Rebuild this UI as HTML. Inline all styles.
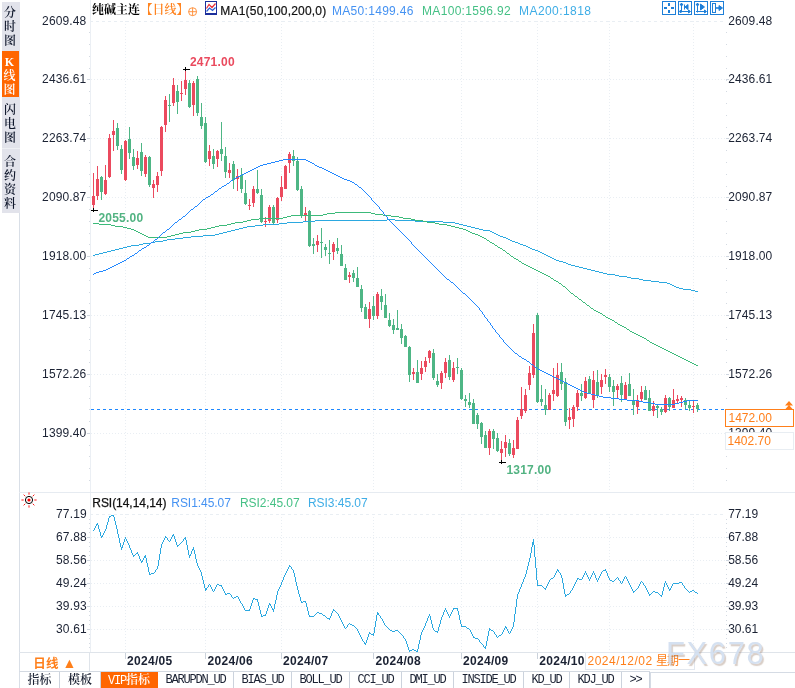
<!DOCTYPE html>
<html lang="zh-CN">
<head>
<meta charset="utf-8">
<title>纯碱主连 日线</title>
<style>
html,body{margin:0;padding:0;background:#fff;}
body{width:795px;height:688px;overflow:hidden;position:relative;font-family:"Liberation Sans", "Noto Sans CJK SC", sans-serif;font-size:12px;color:#1b2233;}
#chart{position:absolute;left:0;top:0;}
.side{position:absolute;left:2px;top:2px;width:18px;background:#e2e3eb;}
.side div{width:18px;box-sizing:border-box;text-align:center;padding-right:2px;font-family:"Liberation Serif", "Noto Serif CJK SC", serif;font-size:12px;font-weight:600;line-height:14px;color:#10182c;white-space:pre-line;}
.side .on{background:#ff6600;color:#fff;width:17px;}
.period{position:absolute;left:20px;top:653px;width:70px;height:18px;line-height:21.5px;letter-spacing:0.3px;padding-left:1px;text-align:center;color:#ff7f1a;font-weight:bold;font-family:"Liberation Sans", "Noto Sans CJK SC", sans-serif;font-size:12.5px;border-right:1px solid #dfe4ea;box-sizing:border-box;}
.period span{font-size:14px;}
.datebox{position:absolute;left:585px;top:652px;width:110px;height:18px;box-sizing:border-box;border:1px solid #e3e8ef;background:#fff;color:#ff7f1a;font-size:12px;line-height:16px;padding-left:1.5px;letter-spacing:0.2px;white-space:nowrap;font-family:"Liberation Sans", "Noto Sans CJK SC", sans-serif;}
.tabs{position:absolute;left:19px;top:671px;height:17px;display:flex;border-top:1px solid #d3d9e1;border-left:1px solid #d9dfe7;font-family:"Liberation Mono", "Noto Serif CJK SC", monospace;font-size:12px;line-height:16px;white-space:nowrap;}
.tabs div{box-sizing:border-box;border-right:1px solid #ccd3dd;text-align:center;letter-spacing:-1.2px;height:17px;overflow:hidden;}
.tabs .cj span{font-family:"Liberation Mono", "Noto Serif CJK SC", monospace;letter-spacing:-1.2px;font-weight:normal;}
.tabs .cj{font-family:"Liberation Serif", "Noto Serif CJK SC", serif;letter-spacing:0;font-weight:600;}
.tabs .on{background:#ff6600;color:#fff;border-right-color:#ff6600;}
.scroll{position:absolute;left:650px;top:672px;width:145px;height:16px;border-top:1px solid #d5dbe4;border-left:1px solid #d5dbe4;box-sizing:border-box;}
.wm{position:absolute;left:666px;top:635.5px;font-size:31px;line-height:36px;letter-spacing:1.6px;color:#d2dff0;text-shadow:1.5px 1.5px 1px rgba(150,120,100,.4);font-family:"Liberation Sans", "Noto Sans CJK SC", sans-serif;white-space:nowrap;opacity:.92;}
.pl{position:absolute;left:728.5px;color:#ff7f1a;font-size:12px;line-height:12px;letter-spacing:.33px;}
</style>
</head>
<body>
<div class="side">
<div style="height:49px;padding-top:4px">分
时
图</div>
<div class="on" style="height:46px;padding-top:3.5px">K
线
图</div>
<div style="height:52px;padding-top:6px;border-bottom:1px solid #eef0f4">闪
电
图</div>
<div style="height:64px;padding-top:6px">合
约
资
料</div>
</div>
<svg id="chart" width="795" height="688" viewBox="0 0 795 688">
<text x="728.3" y="25" fill="#1b2233" font-size="12" letter-spacing="0.1" font-family='"Liberation Sans", "Noto Sans CJK SC", sans-serif'>2609.48</text><text x="728.3" y="83" fill="#1b2233" font-size="12" letter-spacing="0.1" font-family='"Liberation Sans", "Noto Sans CJK SC", sans-serif'>2436.61</text><text x="728.3" y="142" fill="#1b2233" font-size="12" letter-spacing="0.1" font-family='"Liberation Sans", "Noto Sans CJK SC", sans-serif'>2263.74</text><text x="728.3" y="201" fill="#1b2233" font-size="12" letter-spacing="0.1" font-family='"Liberation Sans", "Noto Sans CJK SC", sans-serif'>2090.87</text><text x="728.3" y="260" fill="#1b2233" font-size="12" letter-spacing="0.1" font-family='"Liberation Sans", "Noto Sans CJK SC", sans-serif'>1918.00</text><text x="728.3" y="319" fill="#1b2233" font-size="12" letter-spacing="0.1" font-family='"Liberation Sans", "Noto Sans CJK SC", sans-serif'>1745.13</text><text x="728.3" y="378" fill="#1b2233" font-size="12" letter-spacing="0.1" font-family='"Liberation Sans", "Noto Sans CJK SC", sans-serif'>1572.26</text><text x="728.3" y="437" fill="#1b2233" font-size="12" letter-spacing="0.1" font-family='"Liberation Sans", "Noto Sans CJK SC", sans-serif'>1399.40</text>
<g shape-rendering="crispEdges" fill="none" stroke="#e9eef3" stroke-width="1">
<line x1="90" y1="21.5" x2="724" y2="21.5" stroke-dasharray="3 3"/>
<line x1="91" y1="79.5" x2="726" y2="79.5" stroke-dasharray="1 2"/>
<line x1="91" y1="138.5" x2="726" y2="138.5" stroke-dasharray="1 2"/>
<line x1="91" y1="197.5" x2="726" y2="197.5" stroke-dasharray="1 2"/>
<line x1="91" y1="256.5" x2="726" y2="256.5" stroke-dasharray="1 2"/>
<line x1="91" y1="315.5" x2="726" y2="315.5" stroke-dasharray="1 2"/>
<line x1="91" y1="374.5" x2="726" y2="374.5" stroke-dasharray="1 2"/>
<line x1="91" y1="433.5" x2="726" y2="433.5" stroke-dasharray="1 2"/>
<line x1="90" y1="514.5" x2="724" y2="514.5" stroke-dasharray="3 3"/>
<line x1="91" y1="537.5" x2="726" y2="537.5" stroke-dasharray="1 2"/>
<line x1="91" y1="560.5" x2="726" y2="560.5" stroke-dasharray="1 2"/>
<line x1="91" y1="583.5" x2="726" y2="583.5" stroke-dasharray="1 2"/>
<line x1="91" y1="606.5" x2="726" y2="606.5" stroke-dasharray="1 2"/>
<line x1="91" y1="629.5" x2="726" y2="629.5" stroke-dasharray="1 2"/>
<line x1="125.5" y1="21" x2="125.5" y2="492" stroke-dasharray="1 2"/>
<line x1="125.5" y1="514" x2="125.5" y2="652" stroke-dasharray="1 2"/>
<line x1="205.5" y1="21" x2="205.5" y2="492" stroke-dasharray="1 2"/>
<line x1="205.5" y1="514" x2="205.5" y2="652" stroke-dasharray="1 2"/>
<line x1="281.5" y1="21" x2="281.5" y2="492" stroke-dasharray="1 2"/>
<line x1="281.5" y1="514" x2="281.5" y2="652" stroke-dasharray="1 2"/>
<line x1="373.5" y1="21" x2="373.5" y2="492" stroke-dasharray="1 2"/>
<line x1="373.5" y1="514" x2="373.5" y2="652" stroke-dasharray="1 2"/>
<line x1="461.5" y1="21" x2="461.5" y2="492" stroke-dasharray="1 2"/>
<line x1="461.5" y1="514" x2="461.5" y2="652" stroke-dasharray="1 2"/>
<line x1="537.5" y1="21" x2="537.5" y2="492" stroke-dasharray="1 2"/>
<line x1="537.5" y1="514" x2="537.5" y2="652" stroke-dasharray="1 2"/>
<line x1="609.5" y1="21" x2="609.5" y2="492" stroke-dasharray="1 2"/>
<line x1="609.5" y1="514" x2="609.5" y2="652" stroke-dasharray="1 2"/>
<line x1="693.5" y1="21" x2="693.5" y2="492" stroke-dasharray="1 2"/>
<line x1="693.5" y1="514" x2="693.5" y2="652" stroke-dasharray="1 2"/>
</g>
<g shape-rendering="crispEdges" fill="#e3e8ee">
<rect x="19" y="213" width="1" height="473" fill="#d9dfe7"/>
<rect x="90" y="0" width="1" height="653" fill="#ebeff4"/>
<rect x="19" y="492" width="776" height="1" fill="#e6ebf1"/>
<rect x="19" y="652" width="776" height="1" fill="#dfe4ea"/>
<rect x="19" y="671" width="72" height="1"/>
<rect x="125" y="653" width="1" height="6" fill="#cbd2db"/>
<rect x="205" y="653" width="1" height="6" fill="#cbd2db"/>
<rect x="281" y="653" width="1" height="6" fill="#cbd2db"/>
<rect x="373" y="653" width="1" height="6" fill="#cbd2db"/>
<rect x="461" y="653" width="1" height="6" fill="#cbd2db"/>
<rect x="537" y="653" width="1" height="6" fill="#cbd2db"/>
<rect x="609" y="653" width="1" height="6" fill="#cbd2db"/>
</g>
<g shape-rendering="crispEdges" fill="#d4dae2">
<rect x="726" y="21" width="1" height="1"/>
<rect x="89" y="32" width="1" height="1"/>
<rect x="726" y="32" width="1" height="1"/>
<rect x="89" y="44" width="1" height="1"/>
<rect x="726" y="44" width="1" height="1"/>
<rect x="89" y="56" width="1" height="1"/>
<rect x="726" y="56" width="1" height="1"/>
<rect x="89" y="68" width="1" height="1"/>
<rect x="726" y="68" width="1" height="1"/>
<rect x="726" y="80" width="1" height="1"/>
<rect x="89" y="91" width="1" height="1"/>
<rect x="726" y="91" width="1" height="1"/>
<rect x="89" y="103" width="1" height="1"/>
<rect x="726" y="103" width="1" height="1"/>
<rect x="89" y="115" width="1" height="1"/>
<rect x="726" y="115" width="1" height="1"/>
<rect x="89" y="127" width="1" height="1"/>
<rect x="726" y="127" width="1" height="1"/>
<rect x="726" y="138" width="1" height="1"/>
<rect x="89" y="150" width="1" height="1"/>
<rect x="726" y="150" width="1" height="1"/>
<rect x="89" y="162" width="1" height="1"/>
<rect x="726" y="162" width="1" height="1"/>
<rect x="89" y="174" width="1" height="1"/>
<rect x="726" y="174" width="1" height="1"/>
<rect x="89" y="186" width="1" height="1"/>
<rect x="726" y="186" width="1" height="1"/>
<rect x="726" y="197" width="1" height="1"/>
<rect x="89" y="209" width="1" height="1"/>
<rect x="726" y="209" width="1" height="1"/>
<rect x="89" y="221" width="1" height="1"/>
<rect x="726" y="221" width="1" height="1"/>
<rect x="89" y="233" width="1" height="1"/>
<rect x="726" y="233" width="1" height="1"/>
<rect x="89" y="244" width="1" height="1"/>
<rect x="726" y="244" width="1" height="1"/>
<rect x="726" y="256" width="1" height="1"/>
<rect x="89" y="268" width="1" height="1"/>
<rect x="726" y="268" width="1" height="1"/>
<rect x="89" y="280" width="1" height="1"/>
<rect x="726" y="280" width="1" height="1"/>
<rect x="89" y="292" width="1" height="1"/>
<rect x="726" y="292" width="1" height="1"/>
<rect x="89" y="303" width="1" height="1"/>
<rect x="726" y="303" width="1" height="1"/>
<rect x="726" y="315" width="1" height="1"/>
<rect x="89" y="327" width="1" height="1"/>
<rect x="726" y="327" width="1" height="1"/>
<rect x="89" y="339" width="1" height="1"/>
<rect x="726" y="339" width="1" height="1"/>
<rect x="89" y="350" width="1" height="1"/>
<rect x="726" y="350" width="1" height="1"/>
<rect x="89" y="362" width="1" height="1"/>
<rect x="726" y="362" width="1" height="1"/>
<rect x="726" y="374" width="1" height="1"/>
<rect x="89" y="386" width="1" height="1"/>
<rect x="726" y="386" width="1" height="1"/>
<rect x="89" y="398" width="1" height="1"/>
<rect x="726" y="398" width="1" height="1"/>
<rect x="89" y="409" width="1" height="1"/>
<rect x="726" y="409" width="1" height="1"/>
<rect x="89" y="421" width="1" height="1"/>
<rect x="726" y="421" width="1" height="1"/>
<rect x="726" y="433" width="1" height="1"/>
<rect x="89" y="445" width="1" height="1"/>
<rect x="726" y="445" width="1" height="1"/>
<rect x="89" y="456" width="1" height="1"/>
<rect x="726" y="456" width="1" height="1"/>
<rect x="89" y="468" width="1" height="1"/>
<rect x="726" y="468" width="1" height="1"/>
<rect x="89" y="480" width="1" height="1"/>
<rect x="726" y="480" width="1" height="1"/>
<rect x="726" y="514" width="1" height="1"/>
<rect x="89" y="519" width="1" height="1"/>
<rect x="726" y="519" width="1" height="1"/>
<rect x="89" y="523" width="1" height="1"/>
<rect x="726" y="523" width="1" height="1"/>
<rect x="89" y="528" width="1" height="1"/>
<rect x="726" y="528" width="1" height="1"/>
<rect x="89" y="532" width="1" height="1"/>
<rect x="726" y="532" width="1" height="1"/>
<rect x="726" y="537" width="1" height="1"/>
<rect x="89" y="542" width="1" height="1"/>
<rect x="726" y="542" width="1" height="1"/>
<rect x="89" y="546" width="1" height="1"/>
<rect x="726" y="546" width="1" height="1"/>
<rect x="89" y="551" width="1" height="1"/>
<rect x="726" y="551" width="1" height="1"/>
<rect x="89" y="555" width="1" height="1"/>
<rect x="726" y="555" width="1" height="1"/>
<rect x="726" y="560" width="1" height="1"/>
<rect x="89" y="565" width="1" height="1"/>
<rect x="726" y="565" width="1" height="1"/>
<rect x="89" y="569" width="1" height="1"/>
<rect x="726" y="569" width="1" height="1"/>
<rect x="89" y="574" width="1" height="1"/>
<rect x="726" y="574" width="1" height="1"/>
<rect x="89" y="578" width="1" height="1"/>
<rect x="726" y="578" width="1" height="1"/>
<rect x="726" y="583" width="1" height="1"/>
<rect x="89" y="588" width="1" height="1"/>
<rect x="726" y="588" width="1" height="1"/>
<rect x="89" y="592" width="1" height="1"/>
<rect x="726" y="592" width="1" height="1"/>
<rect x="89" y="597" width="1" height="1"/>
<rect x="726" y="597" width="1" height="1"/>
<rect x="89" y="601" width="1" height="1"/>
<rect x="726" y="601" width="1" height="1"/>
<rect x="726" y="606" width="1" height="1"/>
<rect x="89" y="611" width="1" height="1"/>
<rect x="726" y="611" width="1" height="1"/>
<rect x="89" y="615" width="1" height="1"/>
<rect x="726" y="615" width="1" height="1"/>
<rect x="89" y="620" width="1" height="1"/>
<rect x="726" y="620" width="1" height="1"/>
<rect x="89" y="624" width="1" height="1"/>
<rect x="726" y="624" width="1" height="1"/>
<rect x="726" y="629" width="1" height="1"/>
<rect x="89" y="634" width="1" height="1"/>
<rect x="726" y="634" width="1" height="1"/>
<rect x="89" y="638" width="1" height="1"/>
<rect x="726" y="638" width="1" height="1"/>
<rect x="89" y="643" width="1" height="1"/>
<rect x="726" y="643" width="1" height="1"/>
<rect x="89" y="647" width="1" height="1"/>
<rect x="726" y="647" width="1" height="1"/>
</g>
<g shape-rendering="crispEdges" fill="#cfd6df">
<rect x="87" y="79" width="3" height="1"/>
<rect x="726" y="79" width="3" height="1"/>
<rect x="87" y="138" width="3" height="1"/>
<rect x="726" y="138" width="3" height="1"/>
<rect x="87" y="197" width="3" height="1"/>
<rect x="726" y="197" width="3" height="1"/>
<rect x="87" y="256" width="3" height="1"/>
<rect x="726" y="256" width="3" height="1"/>
<rect x="87" y="315" width="3" height="1"/>
<rect x="726" y="315" width="3" height="1"/>
<rect x="87" y="374" width="3" height="1"/>
<rect x="726" y="374" width="3" height="1"/>
<rect x="87" y="433" width="3" height="1"/>
<rect x="726" y="433" width="3" height="1"/>
<rect x="87" y="537" width="3" height="1"/>
<rect x="726" y="537" width="3" height="1"/>
<rect x="87" y="560" width="3" height="1"/>
<rect x="726" y="560" width="3" height="1"/>
<rect x="87" y="583" width="3" height="1"/>
<rect x="726" y="583" width="3" height="1"/>
<rect x="87" y="606" width="3" height="1"/>
<rect x="726" y="606" width="3" height="1"/>
<rect x="87" y="629" width="3" height="1"/>
<rect x="726" y="629" width="3" height="1"/>
<rect x="726" y="514" width="1" height="1" fill="#fff"/><rect x="726" y="21" width="1" height="1" fill="#fff"/>
</g>
<line x1="91" y1="409.5" x2="724" y2="409.5" stroke="#1e88ff" stroke-width="1" stroke-dasharray="3 3" shape-rendering="crispEdges"/>
<g shape-rendering="crispEdges">
<rect x="93" y="173" width="1" height="37" fill="#eb4a5e"/>
<rect x="92" y="196" width="3" height="9" fill="#eb4a5e"/>
<rect x="97" y="166" width="1" height="34" fill="#eb4a5e"/>
<rect x="96" y="179" width="3" height="17" fill="#eb4a5e"/>
<rect x="101" y="176" width="1" height="24" fill="#4eb685"/>
<rect x="100" y="177" width="3" height="15" fill="#4eb685"/>
<rect x="105" y="165" width="1" height="30" fill="#eb4a5e"/>
<rect x="104" y="180" width="3" height="14" fill="#eb4a5e"/>
<rect x="109" y="134" width="1" height="44" fill="#eb4a5e"/>
<rect x="108" y="138" width="3" height="39" fill="#eb4a5e"/>
<rect x="113" y="120" width="1" height="31" fill="#eb4a5e"/>
<rect x="112" y="131" width="3" height="4" fill="#eb4a5e"/>
<rect x="117" y="123" width="1" height="27" fill="#4eb685"/>
<rect x="116" y="128" width="3" height="18" fill="#4eb685"/>
<rect x="121" y="145" width="1" height="29" fill="#4eb685"/>
<rect x="120" y="149" width="3" height="21" fill="#4eb685"/>
<rect x="125" y="140" width="1" height="41" fill="#eb4a5e"/>
<rect x="124" y="141" width="3" height="39" fill="#eb4a5e"/>
<rect x="129" y="127" width="1" height="32" fill="#4eb685"/>
<rect x="128" y="139" width="3" height="14" fill="#4eb685"/>
<rect x="133" y="149" width="1" height="21" fill="#4eb685"/>
<rect x="132" y="157" width="3" height="9" fill="#4eb685"/>
<rect x="137" y="151" width="1" height="18" fill="#eb4a5e"/>
<rect x="136" y="158" width="3" height="7" fill="#eb4a5e"/>
<rect x="141" y="143" width="1" height="33" fill="#4eb685"/>
<rect x="140" y="152" width="3" height="19" fill="#4eb685"/>
<rect x="145" y="155" width="1" height="22" fill="#eb4a5e"/>
<rect x="144" y="157" width="3" height="17" fill="#eb4a5e"/>
<rect x="149" y="156" width="1" height="31" fill="#4eb685"/>
<rect x="148" y="157" width="3" height="28" fill="#4eb685"/>
<rect x="153" y="180" width="1" height="18" fill="#eb4a5e"/>
<rect x="152" y="184" width="3" height="4" fill="#eb4a5e"/>
<rect x="157" y="172" width="1" height="20" fill="#eb4a5e"/>
<rect x="156" y="176" width="3" height="9" fill="#eb4a5e"/>
<rect x="161" y="126" width="1" height="50" fill="#eb4a5e"/>
<rect x="160" y="127" width="3" height="44" fill="#eb4a5e"/>
<rect x="165" y="96" width="1" height="36" fill="#eb4a5e"/>
<rect x="164" y="100" width="3" height="25" fill="#eb4a5e"/>
<rect x="169" y="94" width="1" height="28" fill="#4eb685"/>
<rect x="168" y="105" width="3" height="1" fill="#4eb685"/>
<rect x="173" y="78" width="1" height="28" fill="#eb4a5e"/>
<rect x="172" y="85" width="3" height="18" fill="#eb4a5e"/>
<rect x="177" y="85" width="1" height="29" fill="#4eb685"/>
<rect x="176" y="91" width="3" height="11" fill="#4eb685"/>
<rect x="181" y="81" width="1" height="20" fill="#eb4a5e"/>
<rect x="180" y="93" width="3" height="1" fill="#eb4a5e"/>
<rect x="185" y="69" width="1" height="26" fill="#eb4a5e"/>
<rect x="184" y="80" width="3" height="9" fill="#eb4a5e"/>
<rect x="189" y="80" width="1" height="28" fill="#4eb685"/>
<rect x="188" y="83" width="3" height="24" fill="#4eb685"/>
<rect x="193" y="81" width="1" height="35" fill="#eb4a5e"/>
<rect x="192" y="83" width="3" height="22" fill="#eb4a5e"/>
<rect x="197" y="76" width="1" height="40" fill="#4eb685"/>
<rect x="196" y="79" width="3" height="34" fill="#4eb685"/>
<rect x="201" y="103" width="1" height="26" fill="#4eb685"/>
<rect x="200" y="117" width="3" height="9" fill="#4eb685"/>
<rect x="205" y="117" width="1" height="46" fill="#4eb685"/>
<rect x="204" y="123" width="3" height="39" fill="#4eb685"/>
<rect x="209" y="145" width="1" height="21" fill="#eb4a5e"/>
<rect x="208" y="151" width="3" height="8" fill="#eb4a5e"/>
<rect x="213" y="149" width="1" height="20" fill="#4eb685"/>
<rect x="212" y="156" width="3" height="8" fill="#4eb685"/>
<rect x="217" y="150" width="1" height="17" fill="#eb4a5e"/>
<rect x="216" y="151" width="3" height="8" fill="#eb4a5e"/>
<rect x="221" y="122" width="1" height="39" fill="#4eb685"/>
<rect x="220" y="149" width="3" height="5" fill="#4eb685"/>
<rect x="225" y="147" width="1" height="31" fill="#4eb685"/>
<rect x="224" y="156" width="3" height="16" fill="#4eb685"/>
<rect x="229" y="163" width="1" height="15" fill="#eb4a5e"/>
<rect x="228" y="170" width="3" height="3" fill="#eb4a5e"/>
<rect x="233" y="161" width="1" height="28" fill="#4eb685"/>
<rect x="232" y="164" width="3" height="16" fill="#4eb685"/>
<rect x="237" y="169" width="1" height="22" fill="#eb4a5e"/>
<rect x="236" y="176" width="3" height="3" fill="#eb4a5e"/>
<rect x="241" y="168" width="1" height="25" fill="#4eb685"/>
<rect x="240" y="175" width="3" height="14" fill="#4eb685"/>
<rect x="245" y="180" width="1" height="25" fill="#4eb685"/>
<rect x="244" y="193" width="3" height="11" fill="#4eb685"/>
<rect x="249" y="199" width="1" height="11" fill="#eb4a5e"/>
<rect x="248" y="205" width="3" height="1" fill="#eb4a5e"/>
<rect x="253" y="186" width="1" height="21" fill="#eb4a5e"/>
<rect x="252" y="189" width="3" height="14" fill="#eb4a5e"/>
<rect x="257" y="170" width="1" height="24" fill="#4eb685"/>
<rect x="256" y="189" width="3" height="4" fill="#4eb685"/>
<rect x="261" y="189" width="1" height="34" fill="#4eb685"/>
<rect x="260" y="195" width="3" height="27" fill="#4eb685"/>
<rect x="265" y="217" width="1" height="10" fill="#eb4a5e"/>
<rect x="264" y="220.5" width="3" height="1" fill="#eb4a5e"/>
<rect x="269" y="205" width="1" height="18" fill="#eb4a5e"/>
<rect x="268" y="207" width="3" height="14" fill="#eb4a5e"/>
<rect x="273" y="205" width="1" height="19" fill="#4eb685"/>
<rect x="272" y="207" width="3" height="16" fill="#4eb685"/>
<rect x="277" y="197" width="1" height="26" fill="#eb4a5e"/>
<rect x="276" y="198" width="3" height="22" fill="#eb4a5e"/>
<rect x="281" y="176" width="1" height="25" fill="#eb4a5e"/>
<rect x="280" y="187" width="3" height="10" fill="#eb4a5e"/>
<rect x="285" y="165" width="1" height="24" fill="#eb4a5e"/>
<rect x="284" y="166" width="3" height="23" fill="#eb4a5e"/>
<rect x="289" y="152" width="1" height="21" fill="#eb4a5e"/>
<rect x="288" y="154" width="3" height="9" fill="#eb4a5e"/>
<rect x="293" y="150" width="1" height="16" fill="#4eb685"/>
<rect x="292" y="156" width="3" height="5" fill="#4eb685"/>
<rect x="297" y="157" width="1" height="34" fill="#4eb685"/>
<rect x="296" y="161" width="3" height="29" fill="#4eb685"/>
<rect x="301" y="186" width="1" height="32" fill="#4eb685"/>
<rect x="300" y="189" width="3" height="27" fill="#4eb685"/>
<rect x="305" y="207" width="1" height="15" fill="#eb4a5e"/>
<rect x="304" y="213" width="3" height="2" fill="#eb4a5e"/>
<rect x="309" y="210" width="1" height="37" fill="#4eb685"/>
<rect x="308" y="211" width="3" height="35" fill="#4eb685"/>
<rect x="313" y="238" width="1" height="16" fill="#4eb685"/>
<rect x="312" y="244" width="3" height="2" fill="#4eb685"/>
<rect x="317" y="235" width="1" height="17" fill="#eb4a5e"/>
<rect x="316" y="241" width="3" height="4" fill="#eb4a5e"/>
<rect x="321" y="228" width="1" height="30" fill="#4eb685"/>
<rect x="320" y="242" width="3" height="1" fill="#4eb685"/>
<rect x="325" y="244" width="1" height="12" fill="#4eb685"/>
<rect x="324" y="247" width="3" height="3" fill="#4eb685"/>
<rect x="329" y="240" width="1" height="24" fill="#4eb685"/>
<rect x="328" y="252.5" width="3" height="1" fill="#4eb685"/>
<rect x="333" y="242" width="1" height="18" fill="#eb4a5e"/>
<rect x="332" y="244" width="3" height="8" fill="#eb4a5e"/>
<rect x="337" y="238" width="1" height="16" fill="#4eb685"/>
<rect x="336" y="248" width="3" height="3" fill="#4eb685"/>
<rect x="341" y="245" width="1" height="21" fill="#4eb685"/>
<rect x="340" y="254" width="3" height="12" fill="#4eb685"/>
<rect x="345" y="264" width="1" height="16" fill="#4eb685"/>
<rect x="344" y="268" width="3" height="12" fill="#4eb685"/>
<rect x="349" y="272" width="1" height="11" fill="#eb4a5e"/>
<rect x="348" y="275" width="3" height="2" fill="#eb4a5e"/>
<rect x="353" y="270" width="1" height="12" fill="#4eb685"/>
<rect x="352" y="273" width="3" height="5" fill="#4eb685"/>
<rect x="357" y="267" width="1" height="20" fill="#4eb685"/>
<rect x="356" y="278" width="3" height="9" fill="#4eb685"/>
<rect x="361" y="285" width="1" height="27" fill="#4eb685"/>
<rect x="360" y="289" width="3" height="19" fill="#4eb685"/>
<rect x="365" y="304" width="1" height="15" fill="#4eb685"/>
<rect x="364" y="307" width="3" height="12" fill="#4eb685"/>
<rect x="369" y="302" width="1" height="26" fill="#eb4a5e"/>
<rect x="368" y="309" width="3" height="10" fill="#eb4a5e"/>
<rect x="373" y="296" width="1" height="24" fill="#4eb685"/>
<rect x="372" y="306" width="3" height="10" fill="#4eb685"/>
<rect x="377" y="292" width="1" height="27" fill="#eb4a5e"/>
<rect x="376" y="294" width="3" height="22" fill="#eb4a5e"/>
<rect x="381" y="289" width="1" height="21" fill="#4eb685"/>
<rect x="380" y="296" width="3" height="6" fill="#4eb685"/>
<rect x="385" y="294" width="1" height="24" fill="#4eb685"/>
<rect x="384" y="305" width="3" height="13" fill="#4eb685"/>
<rect x="389" y="313" width="1" height="14" fill="#4eb685"/>
<rect x="388" y="320" width="3" height="6" fill="#4eb685"/>
<rect x="393" y="319" width="1" height="15" fill="#4eb685"/>
<rect x="392" y="325" width="3" height="5" fill="#4eb685"/>
<rect x="397" y="310" width="1" height="20" fill="#4eb685"/>
<rect x="396" y="328" width="3" height="2" fill="#4eb685"/>
<rect x="401" y="324" width="1" height="20" fill="#4eb685"/>
<rect x="400" y="329" width="3" height="9" fill="#4eb685"/>
<rect x="405" y="335" width="1" height="12" fill="#4eb685"/>
<rect x="404" y="336" width="3" height="11" fill="#4eb685"/>
<rect x="409" y="346" width="1" height="36" fill="#4eb685"/>
<rect x="408" y="347" width="3" height="28" fill="#4eb685"/>
<rect x="413" y="368" width="1" height="12" fill="#eb4a5e"/>
<rect x="412" y="372" width="3" height="2" fill="#eb4a5e"/>
<rect x="417" y="360" width="1" height="23" fill="#4eb685"/>
<rect x="416" y="372" width="3" height="11" fill="#4eb685"/>
<rect x="421" y="361" width="1" height="19" fill="#eb4a5e"/>
<rect x="420" y="368" width="3" height="6" fill="#eb4a5e"/>
<rect x="425" y="357" width="1" height="15" fill="#eb4a5e"/>
<rect x="424" y="361" width="3" height="6" fill="#eb4a5e"/>
<rect x="429" y="350" width="1" height="13" fill="#eb4a5e"/>
<rect x="428" y="351" width="3" height="7" fill="#eb4a5e"/>
<rect x="433" y="349" width="1" height="31" fill="#4eb685"/>
<rect x="432" y="353" width="3" height="25" fill="#4eb685"/>
<rect x="437" y="374" width="1" height="13" fill="#4eb685"/>
<rect x="436" y="381" width="3" height="4" fill="#4eb685"/>
<rect x="441" y="371" width="1" height="18" fill="#eb4a5e"/>
<rect x="440" y="373" width="3" height="10" fill="#eb4a5e"/>
<rect x="445" y="358" width="1" height="20" fill="#eb4a5e"/>
<rect x="444" y="362" width="3" height="11" fill="#eb4a5e"/>
<rect x="449" y="355" width="1" height="25" fill="#4eb685"/>
<rect x="448" y="360" width="3" height="17" fill="#4eb685"/>
<rect x="453" y="362" width="1" height="20" fill="#eb4a5e"/>
<rect x="452" y="368" width="3" height="12" fill="#eb4a5e"/>
<rect x="457" y="358" width="1" height="16" fill="#4eb685"/>
<rect x="456" y="367" width="3" height="1" fill="#4eb685"/>
<rect x="461" y="368" width="1" height="32" fill="#4eb685"/>
<rect x="460" y="370" width="3" height="29" fill="#4eb685"/>
<rect x="465" y="395" width="1" height="12" fill="#4eb685"/>
<rect x="464" y="399" width="3" height="2" fill="#4eb685"/>
<rect x="469" y="393" width="1" height="15" fill="#4eb685"/>
<rect x="468" y="402" width="3" height="3" fill="#4eb685"/>
<rect x="473" y="399" width="1" height="25" fill="#4eb685"/>
<rect x="472" y="403" width="3" height="21" fill="#4eb685"/>
<rect x="477" y="413" width="1" height="16" fill="#4eb685"/>
<rect x="476" y="415" width="3" height="9" fill="#4eb685"/>
<rect x="481" y="422" width="1" height="22" fill="#4eb685"/>
<rect x="480" y="423" width="3" height="14" fill="#4eb685"/>
<rect x="485" y="431" width="1" height="17" fill="#4eb685"/>
<rect x="484" y="435" width="3" height="13" fill="#4eb685"/>
<rect x="489" y="429" width="1" height="26" fill="#eb4a5e"/>
<rect x="488" y="431" width="3" height="17" fill="#eb4a5e"/>
<rect x="493" y="429" width="1" height="20" fill="#4eb685"/>
<rect x="492" y="431" width="3" height="8" fill="#4eb685"/>
<rect x="497" y="433" width="1" height="19" fill="#4eb685"/>
<rect x="496" y="438" width="3" height="13" fill="#4eb685"/>
<rect x="501" y="441" width="1" height="21" fill="#eb4a5e"/>
<rect x="500" y="449" width="3" height="4" fill="#eb4a5e"/>
<rect x="505" y="435" width="1" height="22" fill="#eb4a5e"/>
<rect x="504" y="442" width="3" height="6" fill="#eb4a5e"/>
<rect x="509" y="439" width="1" height="17" fill="#4eb685"/>
<rect x="508" y="443" width="3" height="11" fill="#4eb685"/>
<rect x="513" y="440" width="1" height="18" fill="#eb4a5e"/>
<rect x="512" y="448" width="3" height="7" fill="#eb4a5e"/>
<rect x="517" y="417" width="1" height="32" fill="#eb4a5e"/>
<rect x="516" y="420" width="3" height="29" fill="#eb4a5e"/>
<rect x="521" y="387" width="1" height="32" fill="#eb4a5e"/>
<rect x="520" y="409" width="3" height="7" fill="#eb4a5e"/>
<rect x="525" y="389" width="1" height="24" fill="#eb4a5e"/>
<rect x="524" y="395" width="3" height="16" fill="#eb4a5e"/>
<rect x="529" y="366" width="1" height="24" fill="#eb4a5e"/>
<rect x="528" y="373" width="3" height="12" fill="#eb4a5e"/>
<rect x="533" y="324" width="1" height="54" fill="#eb4a5e"/>
<rect x="532" y="333" width="3" height="42" fill="#eb4a5e"/>
<rect x="537" y="313" width="1" height="90" fill="#4eb685"/>
<rect x="536" y="315" width="3" height="87" fill="#4eb685"/>
<rect x="541" y="385" width="1" height="21" fill="#4eb685"/>
<rect x="540" y="399" width="3" height="3" fill="#4eb685"/>
<rect x="545" y="389" width="1" height="26" fill="#4eb685"/>
<rect x="544" y="405" width="3" height="5" fill="#4eb685"/>
<rect x="549" y="393" width="1" height="17" fill="#eb4a5e"/>
<rect x="548" y="395" width="3" height="15" fill="#eb4a5e"/>
<rect x="553" y="368" width="1" height="33" fill="#eb4a5e"/>
<rect x="552" y="390" width="3" height="4" fill="#eb4a5e"/>
<rect x="557" y="363" width="1" height="34" fill="#eb4a5e"/>
<rect x="556" y="375" width="3" height="21" fill="#eb4a5e"/>
<rect x="561" y="363" width="1" height="27" fill="#4eb685"/>
<rect x="560" y="372" width="3" height="12" fill="#4eb685"/>
<rect x="565" y="378" width="1" height="48" fill="#4eb685"/>
<rect x="564" y="382" width="3" height="40" fill="#4eb685"/>
<rect x="569" y="408" width="1" height="21" fill="#eb4a5e"/>
<rect x="568" y="417" width="3" height="3" fill="#eb4a5e"/>
<rect x="573" y="405" width="1" height="22" fill="#eb4a5e"/>
<rect x="572" y="407" width="3" height="12" fill="#eb4a5e"/>
<rect x="577" y="390" width="1" height="21" fill="#eb4a5e"/>
<rect x="576" y="393" width="3" height="14" fill="#eb4a5e"/>
<rect x="581" y="384" width="1" height="17" fill="#4eb685"/>
<rect x="580" y="393" width="3" height="3" fill="#4eb685"/>
<rect x="585" y="377" width="1" height="22" fill="#eb4a5e"/>
<rect x="584" y="381" width="3" height="17" fill="#eb4a5e"/>
<rect x="589" y="376" width="1" height="17" fill="#4eb685"/>
<rect x="588" y="379" width="3" height="14" fill="#4eb685"/>
<rect x="593" y="371" width="1" height="37" fill="#eb4a5e"/>
<rect x="592" y="380" width="3" height="20" fill="#eb4a5e"/>
<rect x="597" y="370" width="1" height="28" fill="#4eb685"/>
<rect x="596" y="382" width="3" height="14" fill="#4eb685"/>
<rect x="601" y="374" width="1" height="20" fill="#eb4a5e"/>
<rect x="600" y="380" width="3" height="7" fill="#eb4a5e"/>
<rect x="605" y="369" width="1" height="15" fill="#eb4a5e"/>
<rect x="604" y="375" width="3" height="2" fill="#eb4a5e"/>
<rect x="609" y="374" width="1" height="18" fill="#4eb685"/>
<rect x="608" y="377" width="3" height="10" fill="#4eb685"/>
<rect x="613" y="380" width="1" height="26" fill="#4eb685"/>
<rect x="612" y="386" width="3" height="6" fill="#4eb685"/>
<rect x="617" y="384" width="1" height="14" fill="#eb4a5e"/>
<rect x="616" y="386" width="3" height="4" fill="#eb4a5e"/>
<rect x="621" y="376" width="1" height="26" fill="#4eb685"/>
<rect x="620" y="383" width="3" height="12" fill="#4eb685"/>
<rect x="625" y="382" width="1" height="17" fill="#eb4a5e"/>
<rect x="624" y="385" width="3" height="14" fill="#eb4a5e"/>
<rect x="629" y="373" width="1" height="23" fill="#4eb685"/>
<rect x="628" y="384" width="3" height="12" fill="#4eb685"/>
<rect x="633" y="389" width="1" height="26" fill="#4eb685"/>
<rect x="632" y="401" width="3" height="4" fill="#4eb685"/>
<rect x="637" y="395" width="1" height="19" fill="#eb4a5e"/>
<rect x="636" y="401" width="3" height="6" fill="#eb4a5e"/>
<rect x="641" y="386" width="1" height="15" fill="#eb4a5e"/>
<rect x="640" y="392" width="3" height="7" fill="#eb4a5e"/>
<rect x="645" y="386" width="1" height="14" fill="#4eb685"/>
<rect x="644" y="390" width="3" height="10" fill="#4eb685"/>
<rect x="649" y="390" width="1" height="21" fill="#4eb685"/>
<rect x="648" y="398" width="3" height="13" fill="#4eb685"/>
<rect x="653" y="401" width="1" height="15" fill="#eb4a5e"/>
<rect x="652" y="406" width="3" height="5" fill="#eb4a5e"/>
<rect x="657" y="405" width="1" height="13" fill="#4eb685"/>
<rect x="656" y="406" width="3" height="2" fill="#4eb685"/>
<rect x="661" y="407" width="1" height="8" fill="#4eb685"/>
<rect x="660" y="409" width="3" height="3" fill="#4eb685"/>
<rect x="665" y="395" width="1" height="18" fill="#eb4a5e"/>
<rect x="664" y="398" width="3" height="14" fill="#eb4a5e"/>
<rect x="669" y="397" width="1" height="14" fill="#4eb685"/>
<rect x="668" y="398" width="3" height="9" fill="#4eb685"/>
<rect x="673" y="389" width="1" height="19" fill="#eb4a5e"/>
<rect x="672" y="400" width="3" height="8" fill="#eb4a5e"/>
<rect x="677" y="395" width="1" height="8" fill="#eb4a5e"/>
<rect x="676" y="399" width="3" height="2" fill="#eb4a5e"/>
<rect x="681" y="396" width="1" height="11" fill="#eb4a5e"/>
<rect x="680" y="398" width="3" height="2" fill="#eb4a5e"/>
<rect x="685" y="398" width="1" height="11" fill="#4eb685"/>
<rect x="684" y="400" width="3" height="5" fill="#4eb685"/>
<rect x="689" y="400" width="1" height="11" fill="#4eb685"/>
<rect x="688" y="405" width="3" height="3" fill="#4eb685"/>
<rect x="693" y="401" width="1" height="12" fill="#eb4a5e"/>
<rect x="692" y="406" width="3" height="1" fill="#eb4a5e"/>
<rect x="697" y="403" width="1" height="9" fill="#4eb685"/>
<rect x="696" y="405" width="3" height="4" fill="#4eb685"/>
</g>
<path d="M223 232h4v1h-4zM492 232h2v1h-2zM287 222h16v1h-16zM443 222h12v1h-12zM203 235h12v1h-12zM498 235h2v1h-2zM123 247h4v1h-4zM528 247h2v1h-2zM619 276h8v1h-8zM583 268h4v1h-4zM303 221h12v1h-12zM415 221h28v1h-28zM143 243h8v1h-8zM518 243h2v1h-2zM563 262h3v1h-3zM315 220h72v1h-72zM395 220h20v1h-20zM255 225h8v1h-8zM463 225h4v1h-4zM566 263h2v1h-2zM231 230h4v1h-4zM483 230h7v1h-7zM387 219h8v1h-8zM568 264h3v1h-3zM659 282h8v1h-8zM263 224h16v1h-16zM459 224h4v1h-4zM559 261h4v1h-4zM679 288h4v1h-4zM239 228h4v1h-4zM475 228h4v1h-4zM111 250h4v1h-4zM535 250h3v1h-3zM219 233h4v1h-4zM494 233h2v1h-2zM607 274h8v1h-8zM639 279h4v1h-4zM247 226h8v1h-8zM467 226h4v1h-4zM139 244h4v1h-4zM520 244h3v1h-3zM175 238h8v1h-8zM506 238h2v1h-2zM591 270h4v1h-4zM691 290h4v1h-4zM674 286h2v1h-2zM643 280h8v1h-8zM227 231h4v1h-4zM490 231h2v1h-2zM243 227h4v1h-4zM471 227h4v1h-4zM99 253h4v1h-4zM542 253h2v1h-2zM571 265h4v1h-4zM667 283h3v1h-3zM167 239h8v1h-8zM508 239h2v1h-2zM595 271h4v1h-4zM631 278h8v1h-8zM670 284h2v1h-2zM183 237h8v1h-8zM503 237h3v1h-3zM215 234h4v1h-4zM496 234h2v1h-2zM279 223h8v1h-8zM455 223h4v1h-4zM131 245h8v1h-8zM523 245h3v1h-3zM155 241h8v1h-8zM512 241h3v1h-3zM191 236h12v1h-12zM500 236h3v1h-3zM627 277h4v1h-4zM599 272h4v1h-4zM119 248h4v1h-4zM530 248h2v1h-2zM651 281h8v1h-8zM695 291h3v1h-3zM575 266h4v1h-4zM127 246h4v1h-4zM526 246h2v1h-2zM151 242h4v1h-4zM515 242h3v1h-3zM107 251h4v1h-4zM538 251h2v1h-2zM163 240h4v1h-4zM510 240h2v1h-2zM115 249h4v1h-4zM532 249h3v1h-3zM579 267h4v1h-4zM683 289h8v1h-8zM95 254h4v1h-4zM544 254h2v1h-2zM556 260h3v1h-3zM235 229h4v1h-4zM479 229h4v1h-4zM615 275h4v1h-4zM548 256h2v1h-2zM93 255h2v1h-2zM546 255h2v1h-2zM552 258h2v1h-2zM587 269h4v1h-4zM103 252h4v1h-4zM540 252h2v1h-2zM603 273h4v1h-4zM672 285h2v1h-2zM676 287h3v1h-3zM554 259h2v1h-2zM550 257h2v1h-2z" fill="#2ba8e0" shape-rendering="crispEdges"/>
<path d="M247 220h4v1h-4zM415 220h8v1h-8zM327 213h8v1h-8zM371 213h4v1h-4zM287 216h4v1h-4zM391 216h8v1h-8zM620 325h2v1h-2zM99 224h12v1h-12zM227 224h4v1h-4zM439 224h8v1h-8zM672 353h2v1h-2zM93 223h6v1h-6zM231 223h4v1h-4zM435 223h4v1h-4zM490 242h2v1h-2zM291 215h32v1h-32zM383 215h8v1h-8zM554 280h2v1h-2zM142 234h2v1h-2zM175 234h4v1h-4zM475 234h3v1h-3zM259 218h24v1h-24zM403 218h8v1h-8zM666 350h2v1h-2zM658 346h2v1h-2zM243 221h4v1h-4zM423 221h4v1h-4zM688 361h2v1h-2zM136 231h2v1h-2zM191 231h4v1h-4zM468 231h2v1h-2zM115 226h8v1h-8zM215 226h4v1h-4zM451 226h4v1h-4zM587 305h2v1h-2zM134 230h2v1h-2zM195 230h4v1h-4zM466 230h2v1h-2zM235 222h8v1h-8zM427 222h8v1h-8zM138 232h2v1h-2zM183 232h8v1h-8zM470 232h2v1h-2zM662 348h2v1h-2zM654 344h2v1h-2zM684 359h2v1h-2zM583 302h2v1h-2zM676 355h2v1h-2zM283 217h4v1h-4zM399 217h4v1h-4zM140 233h2v1h-2zM179 233h4v1h-4zM472 233h3v1h-3zM131 229h3v1h-3zM199 229h8v1h-8zM463 229h3v1h-3zM335 212h36v1h-36zM148 237h19v1h-19zM482 237h2v1h-2zM680 357h2v1h-2zM612 320h2v1h-2zM606 317h2v1h-2zM111 225h4v1h-4zM219 225h8v1h-8zM447 225h4v1h-4zM608 318h2v1h-2zM548 276h2v1h-2zM323 214h4v1h-4zM375 214h8v1h-8zM251 219h8v1h-8zM411 219h4v1h-4zM144 235h2v1h-2zM171 235h4v1h-4zM478 235h2v1h-2zM542 273h2v1h-2zM594 310h2v1h-2zM647 340h2v1h-2zM546 275h2v1h-2zM538 271h2v1h-2zM530 267h2v1h-2zM123 227h4v1h-4zM211 227h4v1h-4zM455 227h4v1h-4zM579 299h2v1h-2zM598 312h2v1h-2zM642 337h2v1h-2zM503 250h2v1h-2zM522 263h2v1h-2zM534 269h2v1h-2zM600 313h2v1h-2zM526 265h2v1h-2zM500 248h2v1h-2zM519 261h2v1h-2zM563 286h2v1h-2zM575 296h2v1h-2zM146 236h2v1h-2zM167 236h4v1h-4zM480 236h2v1h-2zM596 311h2v1h-2zM686 360h2v1h-2zM694 364h2v1h-2zM634 333h2v1h-2zM627 329h2v1h-2zM127 228h4v1h-4zM207 228h4v1h-4zM459 228h4v1h-4zM690 362h2v1h-2zM682 358h2v1h-2zM630 331h2v1h-2zM492 243h2v1h-2zM511 256h2v1h-2zM622 326h2v1h-2zM615 322h2v1h-2zM692 363h2v1h-2zM495 245h2v1h-2zM559 283h2v1h-2zM514 258h2v1h-2zM618 324h2v1h-2zM571 293h2v1h-2zM696 365h2v1h-2zM678 356h2v1h-2zM674 354h2v1h-2zM610 319h2v1h-2zM660 347h2v1h-2zM487 240h2v1h-2zM507 253h2v1h-2zM551 278h2v1h-2zM670 352h2v1h-2zM603 315h2v1h-2zM664 349h2v1h-2zM656 345h2v1h-2zM484 238h2v1h-2zM650 342h2v1h-2zM652 343h2v1h-2zM540 272h2v1h-2zM532 268h2v1h-2zM644 338h2v1h-2zM536 270h2v1h-2zM528 266h2v1h-2zM640 336h2v1h-2zM632 332h2v1h-2zM524 264h2v1h-2zM636 334h2v1h-2zM498 247h2v1h-2zM638 335h2v1h-2zM591 308h2v1h-2zM516 259h2v1h-2zM624 327h2v1h-2zM556 281h2v1h-2zM668 351h2v1h-2zM544 274h2v1h-2zM573 294h1v1h-1zM505 251h1v1h-1zM550 277h1v1h-1zM593 309h1v1h-1zM649 341h1v1h-1zM570 292h1v1h-1zM574 295h1v1h-1zM646 339h1v1h-1zM521 262h1v1h-1zM566 288h1v1h-1zM506 252h1v1h-1zM577 297h1v1h-1zM509 254h1v1h-1zM605 316h1v1h-1zM518 260h1v1h-1zM494 244h1v1h-1zM567 289h1v1h-1zM602 314h1v1h-1zM497 246h1v1h-1zM578 298h1v1h-1zM581 300h1v1h-1zM617 323h1v1h-1zM510 255h1v1h-1zM486 239h1v1h-1zM513 257h1v1h-1zM614 321h1v1h-1zM489 241h1v1h-1zM582 301h1v1h-1zM585 303h1v1h-1zM502 249h1v1h-1zM568 290h1v1h-1zM561 284h1v1h-1zM569 291h1v1h-1zM586 304h1v1h-1zM626 328h1v1h-1zM558 282h1v1h-1zM629 330h1v1h-1zM553 279h1v1h-1zM589 306h1v1h-1zM562 285h1v1h-1zM590 307h1v1h-1zM565 287h1v1h-1z" fill="#3cba7a" shape-rendering="crispEdges"/>
<path d="M250 170h2v1h-2zM326 170h2v1h-2zM643 402h8v1h-8zM679 402h4v1h-4zM595 395h4v1h-4zM175 222h2v1h-2zM639 401h4v1h-4zM683 401h4v1h-4zM144 247h2v1h-2zM110 267h2v1h-2zM240 175h2v1h-2zM336 175h2v1h-2zM179 219h2v1h-2zM254 168h2v1h-2zM322 168h2v1h-2zM248 171h2v1h-2zM328 171h2v1h-2zM599 396h4v1h-4zM106 269h2v1h-2zM246 172h2v1h-2zM330 172h2v1h-2zM183 216h2v1h-2zM627 400h12v1h-12zM687 400h11v1h-11zM283 159h23v1h-23zM252 169h2v1h-2zM324 169h2v1h-2zM655 404h20v1h-20zM132 255h2v1h-2zM124 260h2v1h-2zM258 166h2v1h-2zM317 166h2v1h-2zM651 403h4v1h-4zM675 403h4v1h-4zM350 181h2v1h-2zM584 392h3v1h-3zM236 177h2v1h-2zM340 177h2v1h-2zM352 182h2v1h-2zM271 162h4v1h-4zM310 162h2v1h-2zM603 397h8v1h-8zM447 279h2v1h-2zM576 388h2v1h-2zM580 390h2v1h-2zM191 209h2v1h-2zM99 271h4v1h-4zM527 361h2v1h-2zM619 399h8v1h-8zM135 253h2v1h-2zM279 160h4v1h-4zM306 160h2v1h-2zM256 167h2v1h-2zM319 167h3v1h-3zM163 232h2v1h-2zM572 386h2v1h-2zM564 382h2v1h-2zM120 262h2v1h-2zM524 359h2v1h-2zM260 165h3v1h-3zM315 165h2v1h-2zM566 383h2v1h-2zM558 379h2v1h-2zM344 179h3v1h-3zM122 261h2v1h-2zM568 384h2v1h-2zM560 380h2v1h-2zM267 163h4v1h-4zM312 163h2v1h-2zM562 381h2v1h-2zM96 272h3v1h-3zM554 377h2v1h-2zM206 197h2v1h-2zM195 206h2v1h-2zM611 398h8v1h-8zM108 268h2v1h-2zM587 393h4v1h-4zM167 229h2v1h-2zM208 196h2v1h-2zM519 356h2v1h-2zM550 375h2v1h-2zM542 371h2v1h-2zM591 394h4v1h-4zM116 264h2v1h-2zM546 373h2v1h-2zM142 248h2v1h-2zM127 258h2v1h-2zM147 245h2v1h-2zM139 250h2v1h-2zM151 242h2v1h-2zM224 185h2v1h-2zM275 161h4v1h-4zM308 161h2v1h-2zM103 270h3v1h-3zM222 186h2v1h-2zM244 173h2v1h-2zM332 173h2v1h-2zM118 263h2v1h-2zM535 367h2v1h-2zM263 164h4v1h-4zM238 176h2v1h-2zM338 176h2v1h-2zM515 353h2v1h-2zM114 265h2v1h-2zM463 293h2v1h-2zM215 191h2v1h-2zM234 178h2v1h-2zM342 178h2v1h-2zM242 174h2v1h-2zM334 174h2v1h-2zM227 183h2v1h-2zM219 188h2v1h-2zM231 180h2v1h-2zM347 180h3v1h-3zM155 239h2v1h-2zM203 199h2v1h-2zM94 273h2v1h-2zM582 391h2v1h-2zM578 389h2v1h-2zM570 385h2v1h-2zM574 387h2v1h-2zM552 376h2v1h-2zM544 372h2v1h-2zM548 374h2v1h-2zM540 370h2v1h-2zM522 358h2v1h-2zM112 266h2v1h-2zM359 187h2v1h-2zM355 184h2v1h-2zM538 369h2v1h-2zM211 194h2v1h-2zM130 256h2v1h-2zM531 364h2v1h-2zM451 282h2v1h-2zM556 378h2v1h-2zM186 214h1v1h-1zM465 294h1v1h-1zM187 213h1v1h-1zM370 197h1v1h-1zM521 357h1v1h-1zM358 186h1v1h-1zM384 214h1v1h-1zM415 247h1v1h-1zM185 215h1v1h-1zM481 311h1v1h-1zM442 274h1v1h-1zM490 323h1v2h-1zM499 335h1v2h-1zM411 242h1v2h-1zM438 270h1v1h-1zM400 231h1v1h-1zM501 338h1v1h-1zM466 295h1v1h-1zM495 330h1v2h-1zM396 227h1v1h-1zM494 329h1v1h-1zM406 237h1v1h-1zM444 276h1v1h-1zM439 271h1v1h-1zM416 248h1v1h-1zM496 332h1v1h-1zM392 223h1v1h-1zM386 216h1v1h-1zM412 244h1v1h-1zM368 195h1v1h-1zM387 217h1v2h-1zM217 190h1v1h-1zM134 254h1v1h-1zM413 245h1v1h-1zM381 210h1v1h-1zM226 184h1v1h-1zM397 228h1v1h-1zM407 238h1v1h-1zM172 225h1v1h-1zM479 308h1v2h-1zM445 277h1v1h-1zM488 321h1v1h-1zM473 302h1v1h-1zM468 297h1v1h-1zM497 333h1v1h-1zM146 246h1v1h-1zM403 234h1v1h-1zM137 252h1v1h-1zM469 298h1v1h-1zM446 278h1v1h-1zM230 181h1v1h-1zM423 255h1v1h-1zM457 287h1v1h-1zM489 322h1v1h-1zM474 303h1v1h-1zM160 235h1v1h-1zM221 187h1v1h-1zM492 326h1v2h-1zM506 344h1v1h-1zM419 251h1v1h-1zM453 283h1v1h-1zM470 299h1v1h-1zM414 246h1v1h-1zM229 182h1v1h-1zM534 366h1v1h-1zM480 310h1v1h-1zM420 252h1v1h-1zM404 235h1v1h-1zM383 212h1v2h-1zM409 240h1v1h-1zM503 340h1v2h-1zM475 304h1v1h-1zM379 207h1v2h-1zM410 241h1v1h-1zM482 312h1v2h-1zM210 195h1v1h-1zM443 275h1v1h-1zM405 236h1v1h-1zM454 284h1v1h-1zM471 300h1v1h-1zM174 223h1v1h-1zM401 232h1v1h-1zM467 296h1v1h-1zM477 306h1v1h-1zM421 253h1v1h-1zM455 285h1v1h-1zM431 263h1v1h-1zM472 301h1v1h-1zM486 318h1v1h-1zM189 211h1v1h-1zM529 362h1v1h-1zM173 224h1v1h-1zM504 342h1v1h-1zM456 286h1v1h-1zM417 249h1v1h-1zM364 191h1v1h-1zM162 233h1v1h-1zM427 259h1v1h-1zM422 254h1v1h-1zM517 354h1v1h-1zM138 251h1v1h-1zM129 257h1v1h-1zM418 250h1v1h-1zM177 221h1v1h-1zM161 234h1v1h-1zM166 230h1v1h-1zM150 243h1v1h-1zM478 307h1v1h-1zM461 291h1v1h-1zM487 319h1v2h-1zM141 249h1v1h-1zM361 188h1v1h-1zM449 280h1v1h-1zM382 211h1v1h-1zM408 239h1v1h-1zM530 363h1v1h-1zM371 198h1v2h-1zM165 231h1v1h-1zM428 260h1v1h-1zM390 221h1v1h-1zM149 244h1v1h-1zM154 240h1v1h-1zM462 292h1v1h-1zM518 355h1v1h-1zM377 205h1v1h-1zM511 349h1v1h-1zM537 368h1v1h-1zM233 179h1v1h-1zM372 200h1v1h-1zM458 288h1v1h-1zM424 256h1v1h-1zM429 261h1v1h-1zM484 315h1v2h-1zM493 328h1v1h-1zM373 201h1v1h-1zM153 241h1v1h-1zM507 345h1v1h-1zM202 200h1v1h-1zM362 189h1v1h-1zM512 350h1v1h-1zM425 257h1v1h-1zM508 346h1v1h-1zM214 192h1v1h-1zM502 339h1v1h-1zM378 206h1v1h-1zM190 210h1v1h-1zM459 289h1v1h-1zM435 267h1v1h-1zM476 305h1v1h-1zM380 209h1v1h-1zM430 262h1v1h-1zM485 317h1v1h-1zM374 202h1v1h-1zM218 189h1v1h-1zM513 351h1v1h-1zM426 258h1v1h-1zM388 219h1v1h-1zM193 208h1v1h-1zM436 268h1v1h-1zM399 230h1v1h-1zM194 207h1v1h-1zM178 220h1v1h-1zM460 290h1v1h-1zM509 347h1v1h-1zM375 203h1v1h-1zM369 196h1v1h-1zM432 264h1v1h-1zM354 183h1v1h-1zM505 343h1v1h-1zM198 204h1v1h-1zM181 218h1v1h-1zM365 192h1v1h-1zM182 217h1v1h-1zM510 348h1v1h-1zM171 226h1v1h-1zM491 325h1v1h-1zM366 193h1v1h-1zM500 337h1v1h-1zM169 228h1v1h-1zM376 204h1v1h-1zM170 227h1v1h-1zM433 265h1v1h-1zM395 226h1v1h-1zM159 236h1v1h-1zM450 281h1v1h-1zM391 222h1v1h-1zM314 164h1v1h-1zM157 238h1v1h-1zM434 266h1v1h-1zM158 237h1v1h-1zM385 215h1v1h-1zM483 314h1v1h-1zM367 194h1v1h-1zM126 259h1v1h-1zM363 190h1v1h-1zM93 274h1v1h-1zM200 202h1v1h-1zM201 201h1v1h-1zM440 272h1v1h-1zM402 233h1v1h-1zM526 360h1v1h-1zM213 193h1v1h-1zM398 229h1v1h-1zM199 203h1v1h-1zM393 224h1v1h-1zM205 198h1v1h-1zM441 273h1v1h-1zM188 212h1v1h-1zM498 334h1v1h-1zM394 225h1v1h-1zM514 352h1v1h-1zM533 365h1v1h-1zM357 185h1v1h-1zM389 220h1v1h-1zM437 269h1v1h-1zM197 205h1v1h-1z" fill="#2288ff" shape-rendering="crispEdges"/>
<path d="M377 614h2v1h-2zM679 582h3v1h-3zM692 590h2v1h-2zM205 588h2v1h-2zM544 588h2v1h-2zM633 591h2v1h-2zM653 591h2v1h-2zM690 591h2v1h-2zM261 616h2v1h-2zM309 616h5v1h-5zM610 580h2v1h-2zM149 574h2v1h-2zM184 538h2v1h-2zM144 556h2v1h-2zM369 633h2v1h-2zM253 598h2v1h-2zM225 594h2v1h-2zM567 594h2v1h-2zM649 594h2v1h-2zM236 596h2v1h-2zM499 635h2v1h-2zM655 592h3v1h-3zM695 592h2v1h-2zM350 624h2v1h-2zM317 612h2v1h-2zM673 583h6v1h-6zM327 618h3v1h-3zM101 536h2v1h-2zM301 602h2v1h-2zM205 589h2v1h-2zM669 589h2v1h-2zM219 585h3v1h-3zM537 585h5v1h-5zM303 601h3v1h-3zM121 547h2v1h-2zM532 542h2v1h-2zM352 625h2v1h-2zM532 543h2v1h-2zM461 626h5v1h-5zM484 647h2v1h-2zM269 604h2v1h-2zM263 615h3v1h-3zM323 615h2v1h-2zM579 579h3v1h-3zM364 643h2v1h-2zM136 553h2v1h-2zM390 630h2v1h-2zM395 630h3v1h-3zM491 630h2v1h-2zM151 573h3v1h-3zM392 631h3v1h-3zM435 631h3v1h-3zM245 610h5v1h-5zM333 610h2v1h-2zM217 584h2v1h-2zM412 649h2v1h-2zM319 613h3v1h-3zM377 613h2v1h-2zM467 628h2v1h-2zM551 578h2v1h-2zM577 578h2v1h-2zM172 535h2v1h-2zM371 634h3v1h-3zM532 544h2v1h-2zM165 537h2v1h-2zM565 595h2v1h-2zM660 595h2v1h-2zM557 570h2v1h-2zM603 570h3v1h-3zM489 629h2v1h-2zM227 593h3v1h-3zM192 549h2v1h-2zM612 581h2v1h-2zM109 516h2v1h-2zM272 609h2v1h-2zM505 627h2v1h-2zM177 545h2v1h-2zM111 515h3v1h-3zM96 524h2v1h-2zM473 637h2v1h-2zM475 638h3v1h-3zM141 561h2v1h-2zM133 555h2v1h-2zM189 555h2v1h-2zM453 608h5v1h-5zM234 597h2v1h-2zM144 557h2v1h-2zM409 650h3v1h-3zM414 650h2v1h-2zM289 566h2v1h-2zM255 599h3v1h-3zM416 651h2v1h-2zM107 522h1v3h-1zM479 640h1v2h-1zM450 614h1v2h-1zM514 614h1v8h-1zM537 580h1v5h-1zM200 570h1v2h-1zM274 604h1v5h-1zM211 587h1v2h-1zM222 587h1v2h-1zM502 632h1v2h-1zM663 587h1v4h-1zM557 569h1v1h-1zM129 545h1v3h-1zM275 600h1v4h-1zM546 586h1v2h-1zM632 589h1v2h-1zM347 625h1v2h-1zM433 628h1v2h-1zM298 590h1v4h-1zM306 603h1v4h-1zM193 547h1v2h-1zM279 587h1v2h-1zM204 584h1v4h-1zM515 607h1v7h-1zM561 575h1v3h-1zM591 575h1v2h-1zM114 517h1v4h-1zM158 560h1v6h-1zM106 525h1v4h-1zM535 557h1v11h-1zM449 616h1v2h-1zM117 529h1v5h-1zM629 583h1v2h-1zM460 620h1v4h-1zM659 594h1v1h-1zM159 554h1v6h-1zM271 606h1v2h-1zM471 632h1v2h-1zM120 543h1v4h-1zM139 556h1v3h-1zM607 573h1v3h-1zM171 537h1v2h-1zM671 586h1v2h-1zM418 644h1v5h-1zM98 525h1v4h-1zM530 553h1v5h-1zM441 617h1v3h-1zM494 632h1v2h-1zM252 600h1v3h-1zM685 588h1v1h-1zM287 569h1v2h-1zM233 598h1v1h-1zM267 608h1v3h-1zM531 547h1v6h-1zM276 595h1v5h-1zM402 635h1v1h-1zM185 537h1v1h-1zM185 539h1v1h-1zM527 566h1v4h-1zM94 528h1v2h-1zM666 583h1v2h-1zM583 575h1v2h-1zM384 623h1v2h-1zM486 641h1v5h-1zM403 636h1v2h-1zM376 615h1v6h-1zM564 589h1v5h-1zM478 639h1v1h-1zM186 540h1v5h-1zM199 568h1v2h-1zM595 575h1v3h-1zM513 622h1v5h-1zM332 611h1v2h-1zM430 616h1v4h-1zM210 585h1v2h-1zM128 543h1v2h-1zM609 578h1v2h-1zM526 570h1v4h-1zM294 573h1v4h-1zM286 571h1v2h-1zM203 580h1v4h-1zM598 578h1v2h-1zM162 542h1v2h-1zM196 559h1v4h-1zM308 611h1v4h-1zM563 583h1v6h-1zM146 558h1v5h-1zM697 593h1v1h-1zM309 615h1v1h-1zM331 613h1v3h-1zM572 588h1v2h-1zM188 550h1v5h-1zM556 571h1v2h-1zM270 605h1v1h-1zM525 574h1v3h-1zM534 545h1v12h-1zM109 517h1v1h-1zM157 566h1v3h-1zM545 589h1v1h-1zM338 614h1v2h-1zM346 627h1v1h-1zM406 641h1v3h-1zM570 591h1v2h-1zM602 571h1v1h-1zM590 577h1v2h-1zM560 573h1v2h-1zM380 616h1v2h-1zM662 591h1v4h-1zM422 630h1v2h-1zM316 613h1v1h-1zM225 593h1v1h-1zM453 609h1v1h-1zM383 621h1v2h-1zM174 536h1v3h-1zM266 611h1v3h-1zM459 615h1v5h-1zM143 558h1v2h-1zM127 541h1v2h-1zM425 623h1v3h-1zM259 606h1v4h-1zM522 582h1v2h-1zM251 603h1v3h-1zM361 637h1v2h-1zM326 617h1v1h-1zM448 614h1v2h-1zM670 588h1v1h-1zM628 581h1v2h-1zM512 627h1v2h-1zM440 620h1v4h-1zM409 651h1v1h-1zM354 626h1v1h-1zM421 632h1v3h-1zM297 586h1v4h-1zM485 646h1v1h-1zM485 648h1v1h-1zM202 576h1v4h-1zM517 594h1v5h-1zM582 577h1v2h-1zM300 597h1v4h-1zM195 554h1v5h-1zM635 590h1v1h-1zM349 623h1v1h-1zM258 602h1v4h-1zM269 603h1v1h-1zM445 608h1v2h-1zM521 584h1v3h-1zM278 589h1v2h-1zM250 606h1v3h-1zM116 525h1v4h-1zM301 601h1v1h-1zM405 639h1v2h-1zM124 539h1v3h-1zM647 590h1v2h-1zM597 580h1v2h-1zM160 548h1v6h-1zM97 523h1v1h-1zM617 577h1v1h-1zM417 649h1v2h-1zM429 614h1v2h-1zM221 586h1v1h-1zM192 550h1v1h-1zM620 581h1v2h-1zM161 544h1v4h-1zM213 591h1v1h-1zM224 591h1v2h-1zM516 599h1v8h-1zM631 587h1v2h-1zM307 607h1v4h-1zM536 568h1v12h-1zM481 643h1v1h-1zM559 572h1v1h-1zM387 627h1v1h-1zM529 558h1v4h-1zM277 591h1v4h-1zM104 531h1v2h-1zM482 644h1v1h-1zM187 545h1v5h-1zM432 624h1v4h-1zM123 542h1v3h-1zM466 627h1v1h-1zM360 635h1v2h-1zM108 518h1v4h-1zM93 530h1v1h-1zM565 594h1v1h-1zM565 596h1v1h-1zM608 576h1v2h-1zM191 551h1v3h-1zM577 579h1v1h-1zM375 621h1v6h-1zM649 595h1v1h-1zM547 584h1v2h-1zM296 582h1v4h-1zM601 572h1v2h-1zM493 631h1v1h-1zM119 538h1v5h-1zM661 596h1v1h-1zM285 573h1v2h-1zM398 631h1v1h-1zM452 610h1v2h-1zM265 614h1v1h-1zM368 634h1v3h-1zM165 536h1v1h-1zM420 635h1v5h-1zM643 583h1v2h-1zM176 542h1v3h-1zM131 550h1v3h-1zM646 588h1v2h-1zM687 590h1v1h-1zM596 578h1v2h-1zM533 539h1v3h-1zM322 614h1v1h-1zM573 586h1v2h-1zM480 642h1v1h-1zM688 591h1v1h-1zM209 584h1v1h-1zM511 629h1v2h-1zM126 539h1v2h-1zM555 573h1v2h-1zM630 585h1v2h-1zM524 577h1v2h-1zM367 637h1v3h-1zM100 532h1v4h-1zM408 647h1v3h-1zM528 562h1v4h-1zM569 593h1v1h-1zM115 521h1v4h-1zM520 587h1v2h-1zM447 612h1v2h-1zM627 579h1v2h-1zM496 635h1v2h-1zM333 609h1v1h-1zM488 631h1v5h-1zM562 578h1v5h-1zM374 627h1v6h-1zM272 608h1v1h-1zM180 543h1v1h-1zM201 572h1v4h-1zM428 616h1v2h-1zM589 579h1v2h-1zM641 581h1v1h-1zM138 554h1v2h-1zM669 590h1v1h-1zM148 567h1v5h-1zM642 582h1v1h-1zM619 580h1v1h-1zM175 539h1v3h-1zM212 589h1v2h-1zM223 589h1v2h-1zM194 550h1v4h-1zM164 538h1v2h-1zM216 585h1v2h-1zM362 639h1v2h-1zM330 616h1v2h-1zM268 605h1v3h-1zM637 588h1v1h-1zM444 610h1v2h-1zM197 563h1v3h-1zM260 610h1v4h-1zM295 577h1v5h-1zM508 631h1v2h-1zM458 611h1v4h-1zM363 641h1v1h-1zM489 628h1v1h-1zM489 630h1v1h-1zM118 534h1v4h-1zM99 529h1v3h-1zM622 581h1v2h-1zM344 626h1v2h-1zM140 559h1v2h-1zM359 633h1v2h-1zM183 539h1v2h-1zM366 640h1v3h-1zM664 583h1v4h-1zM431 620h1v4h-1zM495 634h1v1h-1zM348 624h1v1h-1zM550 579h1v1h-1zM133 556h1v1h-1zM487 636h1v5h-1zM289 565h1v1h-1zM519 589h1v3h-1zM155 570h1v2h-1zM645 586h1v2h-1zM208 585h1v2h-1zM554 575h1v2h-1zM618 578h1v2h-1zM103 533h1v2h-1zM648 592h1v2h-1zM122 545h1v2h-1zM257 600h1v2h-1zM438 627h1v4h-1zM523 579h1v3h-1zM168 540h1v1h-1zM147 563h1v4h-1zM427 618h1v3h-1zM261 614h1v2h-1zM419 640h1v4h-1zM483 645h1v2h-1zM600 574h1v2h-1zM694 591h1v1h-1zM125 537h1v2h-1zM507 629h1v2h-1zM446 610h1v2h-1zM626 577h1v2h-1zM510 631h1v2h-1zM284 575h1v2h-1zM249 609h1v1h-1zM355 627h1v1h-1zM96 525h1v1h-1zM373 633h1v1h-1zM373 635h1v1h-1zM407 644h1v3h-1zM439 624h1v3h-1zM588 577h1v2h-1zM132 553h1v2h-1zM443 612h1v3h-1zM231 595h1v2h-1zM215 587h1v2h-1zM644 585h1v1h-1zM299 594h1v3h-1zM170 539h1v2h-1zM576 580h1v2h-1zM651 593h1v1h-1zM388 628h1v1h-1zM182 541h1v1h-1zM190 554h1v1h-1zM365 644h1v1h-1zM640 582h1v2h-1zM288 567h1v2h-1zM389 629h1v1h-1zM121 548h1v2h-1zM549 580h1v2h-1zM358 631h1v2h-1zM369 632h1v1h-1zM506 628h1v1h-1zM625 576h1v1h-1zM102 535h1v1h-1zM606 571h1v2h-1zM343 624h1v2h-1zM457 609h1v2h-1zM167 538h1v2h-1zM587 575h1v2h-1zM189 556h1v2h-1zM283 577h1v3h-1zM682 583h1v2h-1zM599 576h1v2h-1zM163 540h1v2h-1zM621 583h1v1h-1zM667 585h1v2h-1zM614 580h1v1h-1zM594 573h1v2h-1zM689 592h1v1h-1zM135 554h1v1h-1zM95 526h1v2h-1zM364 642h1v1h-1zM305 602h1v1h-1zM437 632h1v1h-1zM357 629h1v2h-1zM518 592h1v2h-1zM472 634h1v2h-1zM335 611h1v1h-1zM399 632h1v1h-1zM244 608h1v2h-1zM497 637h1v1h-1zM154 572h1v1h-1zM177 546h1v1h-1zM291 567h1v2h-1zM339 616h1v2h-1zM426 621h1v2h-1zM575 582h1v2h-1zM636 589h1v1h-1zM377 612h1v1h-1zM101 537h1v1h-1zM571 590h1v1h-1zM214 589h1v2h-1zM509 633h1v1h-1zM293 570h1v3h-1zM342 622h1v2h-1zM282 580h1v2h-1zM207 587h1v1h-1zM345 628h1v1h-1zM553 577h1v1h-1zM586 573h1v2h-1zM149 572h1v2h-1zM240 601h1v2h-1zM501 634h1v1h-1zM315 614h1v1h-1zM243 606h1v2h-1zM205 590h1v1h-1zM113 516h1v1h-1zM548 582h1v2h-1zM281 582h1v3h-1zM624 577h1v2h-1zM639 584h1v2h-1zM356 628h1v1h-1zM173 534h1v1h-1zM505 626h1v1h-1zM341 620h1v2h-1zM605 569h1v1h-1zM105 529h1v2h-1zM616 578h1v1h-1zM658 593h1v1h-1zM239 599h1v2h-1zM169 541h1v1h-1zM684 586h1v2h-1zM504 628h1v2h-1zM232 597h1v1h-1zM181 542h1v1h-1zM142 560h1v1h-1zM665 581h1v2h-1zM593 571h1v2h-1zM198 566h1v2h-1zM574 584h1v2h-1zM470 630h1v2h-1zM273 610h1v2h-1zM473 636h1v1h-1zM329 619h1v1h-1zM340 618h1v2h-1zM623 579h1v2h-1zM585 571h1v2h-1zM668 587h1v2h-1zM424 626h1v2h-1zM137 552h1v1h-1zM672 584h1v2h-1zM130 548h1v2h-1zM172 536h1v1h-1zM451 612h1v2h-1zM379 615h1v1h-1zM532 545h1v2h-1zM179 544h1v1h-1zM156 569h1v1h-1zM638 586h1v2h-1zM469 629h1v1h-1zM461 624h1v2h-1zM314 615h1v1h-1zM336 612h1v1h-1zM242 604h1v2h-1zM400 633h1v1h-1zM683 585h1v1h-1zM592 573h1v2h-1zM337 613h1v1h-1zM401 634h1v1h-1zM382 619h1v2h-1zM145 555h1v1h-1zM385 625h1v1h-1zM558 571h1v1h-1zM442 615h1v2h-1zM386 626h1v1h-1zM325 616h1v1h-1zM503 630h1v2h-1zM584 573h1v2h-1zM423 628h1v2h-1zM141 562h1v1h-1zM542 586h1v1h-1zM280 585h1v2h-1zM615 579h1v1h-1zM292 569h1v1h-1zM238 597h1v2h-1zM543 587h1v1h-1zM230 594h1v1h-1zM241 603h1v1h-1zM686 589h1v1h-1zM381 618h1v1h-1zM633 592h1v1h-1zM434 630h1v1h-1zM404 638h1v1h-1zM253 599h1v1h-1zM652 592h1v1h-1zM498 636h1v1h-1z" fill="#2ba8e0" shape-rendering="crispEdges"/>
<g shape-rendering="crispEdges" fill="#000"><rect x="183" y="69" width="7" height="1"/><rect x="185" y="67" width="1" height="4"/></g>
<g shape-rendering="crispEdges" fill="#000"><rect x="91" y="210" width="7" height="1"/><rect x="93" y="208" width="1" height="4"/></g>
<g shape-rendering="crispEdges" fill="#000"><rect x="499" y="462" width="7" height="1"/><rect x="501" y="460" width="1" height="4"/></g>
<g stroke="#ff8a30" stroke-width="0.9" fill="none"><circle cx="192.6" cy="11.7" r="4"/><path d="M188.6 11.7H196.6M192.6 7.7V15.7"/></g>
<g shape-rendering="crispEdges"><rect x="205.5" y="1.5" width="11" height="12" fill="#fff" stroke="#1c2f9c" stroke-width="1"/><rect x="205" y="13" width="12" height="1.5" fill="#1c2f9c"/></g>
<polyline points="206.5,8.5 209,4.5 212,7.5 215.5,3.5" fill="none" stroke="#e8323c" stroke-width="1.2"/>
<polyline points="206.5,11.5 209.5,8 212.5,10.5 215.5,7.5" fill="none" stroke="#2a5fd0" stroke-width="1.2"/>
<rect x="662.5" y="1.5" width="13" height="13" fill="#fff" stroke="#1e7fd8" stroke-width="1" shape-rendering="crispEdges"/>
<rect x="678.5" y="1.5" width="13" height="13" fill="#fff" stroke="#1e7fd8" stroke-width="1" shape-rendering="crispEdges"/>
<rect x="694.5" y="1.5" width="13" height="13" fill="#fff" stroke="#1e7fd8" stroke-width="1" shape-rendering="crispEdges"/>
<rect x="710.5" y="1.5" width="13" height="13" fill="#fff" stroke="#1e7fd8" stroke-width="1" shape-rendering="crispEdges"/>
<g fill="#1e7fd8" shape-rendering="crispEdges">
<rect x="664" y="7" width="3" height="2"/><rect x="671" y="7" width="3" height="2"/><rect x="668" y="3" width="2" height="3"/><rect x="668" y="10" width="2" height="3"/>
</g>
<g stroke="#1e7fd8" stroke-width="1" fill="#1e7fd8">
<path d="M681.5 3V12.5M680 11.5H690" fill="none"/><path d="M680 5L681.5 3L683 5Z M688.5 10L690.5 11.5L688.5 13Z M680.5 10.2L679.5 11.5L680.5 12.8Z"/>
<path d="M684.5 4.5V9.5" fill="none"/><path d="M688 4.5L685 7L688 9.5Z"/>
<path d="M697.5 3V12.5M696 11.5H706" fill="none"/><path d="M696 5L697.5 3L699 5Z M704.5 10L706.5 11.5L704.5 13Z"/>
<path d="M700.5 4L704.5 7L700.5 10Z"/>
<rect x="712.5" y="3.5" width="3" height="9" fill="none"/><path d="M715.5 8H720" fill="none" stroke-width="1.6"/><path d="M719 5.5L722.5 8L719 10.5Z"/>
</g>
<circle cx="29" cy="500" r="3.6" fill="#fff" stroke="#000" stroke-width="1"/><circle cx="29" cy="500" r="1.6" fill="#ff0000"/>
<path d="M34.30 500.00L36.60 500.00M32.75 503.75L34.37 505.37M29.00 505.30L29.00 507.60M25.25 503.75L23.63 505.37M23.70 500.00L21.40 500.00M25.25 496.25L23.63 494.63M29.00 494.70L29.00 492.40M32.75 496.25L34.37 494.63" stroke="#ff1a1a" stroke-width="1" fill="none"/>
<rect x="725.5" y="432.5" width="68" height="17" fill="#fff" stroke="#e8edf2" stroke-width="1" shape-rendering="crispEdges"/>
<rect x="725.5" y="409.5" width="68" height="17" fill="#fff" stroke="#ff7f1a" stroke-width="1" shape-rendering="crispEdges"/>
<path d="M785 405.5L789 401L793 405.5Z M785 409.5L789 405L793 409.5Z" fill="#ff7f1a"/>
<text x="86.2" y="25" fill="#1b2233" font-size="12" font-weight="normal" text-anchor="end" letter-spacing="0.1" font-family='"Liberation Sans", "Noto Sans CJK SC", sans-serif' >2609.48</text>
<text x="86.2" y="83" fill="#1b2233" font-size="12" font-weight="normal" text-anchor="end" letter-spacing="0.1" font-family='"Liberation Sans", "Noto Sans CJK SC", sans-serif' >2436.61</text>
<text x="86.2" y="142" fill="#1b2233" font-size="12" font-weight="normal" text-anchor="end" letter-spacing="0.1" font-family='"Liberation Sans", "Noto Sans CJK SC", sans-serif' >2263.74</text>
<text x="86.2" y="201" fill="#1b2233" font-size="12" font-weight="normal" text-anchor="end" letter-spacing="0.1" font-family='"Liberation Sans", "Noto Sans CJK SC", sans-serif' >2090.87</text>
<text x="86.2" y="260" fill="#1b2233" font-size="12" font-weight="normal" text-anchor="end" letter-spacing="0.1" font-family='"Liberation Sans", "Noto Sans CJK SC", sans-serif' >1918.00</text>
<text x="86.2" y="319" fill="#1b2233" font-size="12" font-weight="normal" text-anchor="end" letter-spacing="0.1" font-family='"Liberation Sans", "Noto Sans CJK SC", sans-serif' >1745.13</text>
<text x="86.2" y="378" fill="#1b2233" font-size="12" font-weight="normal" text-anchor="end" letter-spacing="0.1" font-family='"Liberation Sans", "Noto Sans CJK SC", sans-serif' >1572.26</text>
<text x="86.2" y="437" fill="#1b2233" font-size="12" font-weight="normal" text-anchor="end" letter-spacing="0.1" font-family='"Liberation Sans", "Noto Sans CJK SC", sans-serif' >1399.40</text>
<text x="86.8" y="518" fill="#1b2233" font-size="12" font-weight="normal" text-anchor="end" letter-spacing="0.15" font-family='"Liberation Sans", "Noto Sans CJK SC", sans-serif' >77.19</text>
<text x="728.2" y="518" fill="#1b2233" font-size="12" font-weight="normal" text-anchor="start" letter-spacing="0" font-family='"Liberation Sans", "Noto Sans CJK SC", sans-serif' >77.19</text>
<text x="86.8" y="541" fill="#1b2233" font-size="12" font-weight="normal" text-anchor="end" letter-spacing="0.15" font-family='"Liberation Sans", "Noto Sans CJK SC", sans-serif' >67.88</text>
<text x="728.2" y="541" fill="#1b2233" font-size="12" font-weight="normal" text-anchor="start" letter-spacing="0" font-family='"Liberation Sans", "Noto Sans CJK SC", sans-serif' >67.88</text>
<text x="86.8" y="564" fill="#1b2233" font-size="12" font-weight="normal" text-anchor="end" letter-spacing="0.15" font-family='"Liberation Sans", "Noto Sans CJK SC", sans-serif' >58.56</text>
<text x="728.2" y="564" fill="#1b2233" font-size="12" font-weight="normal" text-anchor="start" letter-spacing="0" font-family='"Liberation Sans", "Noto Sans CJK SC", sans-serif' >58.56</text>
<text x="86.8" y="587" fill="#1b2233" font-size="12" font-weight="normal" text-anchor="end" letter-spacing="0.15" font-family='"Liberation Sans", "Noto Sans CJK SC", sans-serif' >49.24</text>
<text x="728.2" y="587" fill="#1b2233" font-size="12" font-weight="normal" text-anchor="start" letter-spacing="0" font-family='"Liberation Sans", "Noto Sans CJK SC", sans-serif' >49.24</text>
<text x="86.8" y="610" fill="#1b2233" font-size="12" font-weight="normal" text-anchor="end" letter-spacing="0.15" font-family='"Liberation Sans", "Noto Sans CJK SC", sans-serif' >39.93</text>
<text x="728.2" y="610" fill="#1b2233" font-size="12" font-weight="normal" text-anchor="start" letter-spacing="0" font-family='"Liberation Sans", "Noto Sans CJK SC", sans-serif' >39.93</text>
<text x="86.8" y="633" fill="#1b2233" font-size="12" font-weight="normal" text-anchor="end" letter-spacing="0.15" font-family='"Liberation Sans", "Noto Sans CJK SC", sans-serif' >30.61</text>
<text x="728.2" y="633" fill="#1b2233" font-size="12" font-weight="normal" text-anchor="start" letter-spacing="0" font-family='"Liberation Sans", "Noto Sans CJK SC", sans-serif' >30.61</text>
<text x="92" y="14" fill="#000" font-size="12" font-weight="700" text-anchor="start" letter-spacing="0" font-family='"Liberation Serif", "Noto Serif CJK SC", serif' >纯碱主连</text>
<text x="140.5" y="14" fill="#ff8420" font-size="12" font-weight="600" text-anchor="start" letter-spacing="0" font-family='"Liberation Serif", "Noto Serif CJK SC", serif' >【日线】</text>
<text x="220.3" y="14.5" fill="#111" font-size="12" font-weight="normal" text-anchor="start" letter-spacing="0.2" font-family='"Liberation Sans", "Noto Sans CJK SC", sans-serif' stroke="#111" stroke-width="0.2">MA1(50,100,200,0)</text>
<text x="332" y="14.5" fill="#4592f2" font-size="12" font-weight="normal" text-anchor="start" letter-spacing="0.3" font-family='"Liberation Sans", "Noto Sans CJK SC", sans-serif' >MA50:1499.46</text>
<text x="422" y="14.5" fill="#45c085" font-size="12" font-weight="normal" text-anchor="start" letter-spacing="0.32" font-family='"Liberation Sans", "Noto Sans CJK SC", sans-serif' >MA100:1596.92</text>
<text x="519" y="14.5" fill="#3eade6" font-size="12" font-weight="normal" text-anchor="start" letter-spacing="0.44" font-family='"Liberation Sans", "Noto Sans CJK SC", sans-serif' >MA200:1818</text>
<text x="92.3" y="507" fill="#111" font-size="12" font-weight="normal" text-anchor="start" letter-spacing="-0.05" font-family='"Liberation Sans", "Noto Sans CJK SC", sans-serif' stroke="#111" stroke-width="0.25">RSI(14,14,14)</text>
<text x="171.3" y="507" fill="#4592f2" font-size="12" font-weight="normal" text-anchor="start" letter-spacing="-0.05" font-family='"Liberation Sans", "Noto Sans CJK SC", sans-serif' >RSI1:45.07</text>
<text x="240" y="507" fill="#45c085" font-size="12" font-weight="normal" text-anchor="start" letter-spacing="-0.05" font-family='"Liberation Sans", "Noto Sans CJK SC", sans-serif' >RSI2:45.07</text>
<text x="308" y="507" fill="#3eade6" font-size="12" font-weight="normal" text-anchor="start" letter-spacing="-0.05" font-family='"Liberation Sans", "Noto Sans CJK SC", sans-serif' >RSI3:45.07</text>
<text x="190" y="65.5" fill="#ea4a5e" font-size="12" font-weight="bold" text-anchor="start" letter-spacing="0.2" font-family='"Liberation Sans", "Noto Sans CJK SC", sans-serif' >2471.00</text>
<text x="98.5" y="221.8" fill="#52b382" font-size="12" font-weight="bold" text-anchor="start" letter-spacing="0.2" font-family='"Liberation Sans", "Noto Sans CJK SC", sans-serif' >2055.00</text>
<text x="506.5" y="473.5" fill="#52b382" font-size="12" font-weight="bold" text-anchor="start" letter-spacing="0.2" font-family='"Liberation Sans", "Noto Sans CJK SC", sans-serif' >1317.00</text>
<text x="127" y="665" fill="#1b2233" font-size="12" font-weight="bold" text-anchor="start" letter-spacing="0.3" font-family='"Liberation Sans", "Noto Sans CJK SC", sans-serif' >2024/05</text>
<text x="207.5" y="665" fill="#1b2233" font-size="12" font-weight="bold" text-anchor="start" letter-spacing="0.3" font-family='"Liberation Sans", "Noto Sans CJK SC", sans-serif' >2024/06</text>
<text x="283" y="665" fill="#1b2233" font-size="12" font-weight="bold" text-anchor="start" letter-spacing="0.3" font-family='"Liberation Sans", "Noto Sans CJK SC", sans-serif' >2024/07</text>
<text x="375.5" y="665" fill="#1b2233" font-size="12" font-weight="bold" text-anchor="start" letter-spacing="0.3" font-family='"Liberation Sans", "Noto Sans CJK SC", sans-serif' >2024/08</text>
<text x="463" y="665" fill="#1b2233" font-size="12" font-weight="bold" text-anchor="start" letter-spacing="0.3" font-family='"Liberation Sans", "Noto Sans CJK SC", sans-serif' >2024/09</text>
<text x="539.3" y="665" fill="#1b2233" font-size="12" font-weight="bold" text-anchor="start" letter-spacing="0.3" font-family='"Liberation Sans", "Noto Sans CJK SC", sans-serif' >2024/10</text>
<text x="728.5" y="422" fill="#ff7f1a" font-size="12" letter-spacing="0" font-family='"Liberation Sans", "Noto Sans CJK SC", sans-serif'>1472.00</text>
<text x="727.5" y="445" fill="#ff7f1a" font-size="12" letter-spacing="0" font-family='"Liberation Sans", "Noto Sans CJK SC", sans-serif'>1402.70</text>
</svg>
<div class="period">日线 <span>▲</span></div>
<div class="datebox"><span style="letter-spacing:.5px">2024/12/02</span> <span style="letter-spacing:-1px">星期一</span></div>
<div class="wm">FX678</div>
<div class="tabs">
<div class="cj" style="width:40px">指标</div>
<div class="cj" style="width:41px">模板</div>
<div class="cj on" style="width:57px"><span>VIP</span>指标</div>
<div style="width:76px">BARUPDN_UD</div>
<div style="width:58px">BIAS_UD</div>
<div style="width:58px">BOLL_UD</div>
<div style="width:52px">CCI_UD</div>
<div style="width:52px">DMI_UD</div>
<div style="width:70px">INSIDE_UD</div>
<div style="width:46px">KD_UD</div>
<div style="width:52px">KDJ_UD</div>
<div style="width:28px">&gt;&gt;</div>
</div>
<div class="scroll"></div>
</body>
</html>
